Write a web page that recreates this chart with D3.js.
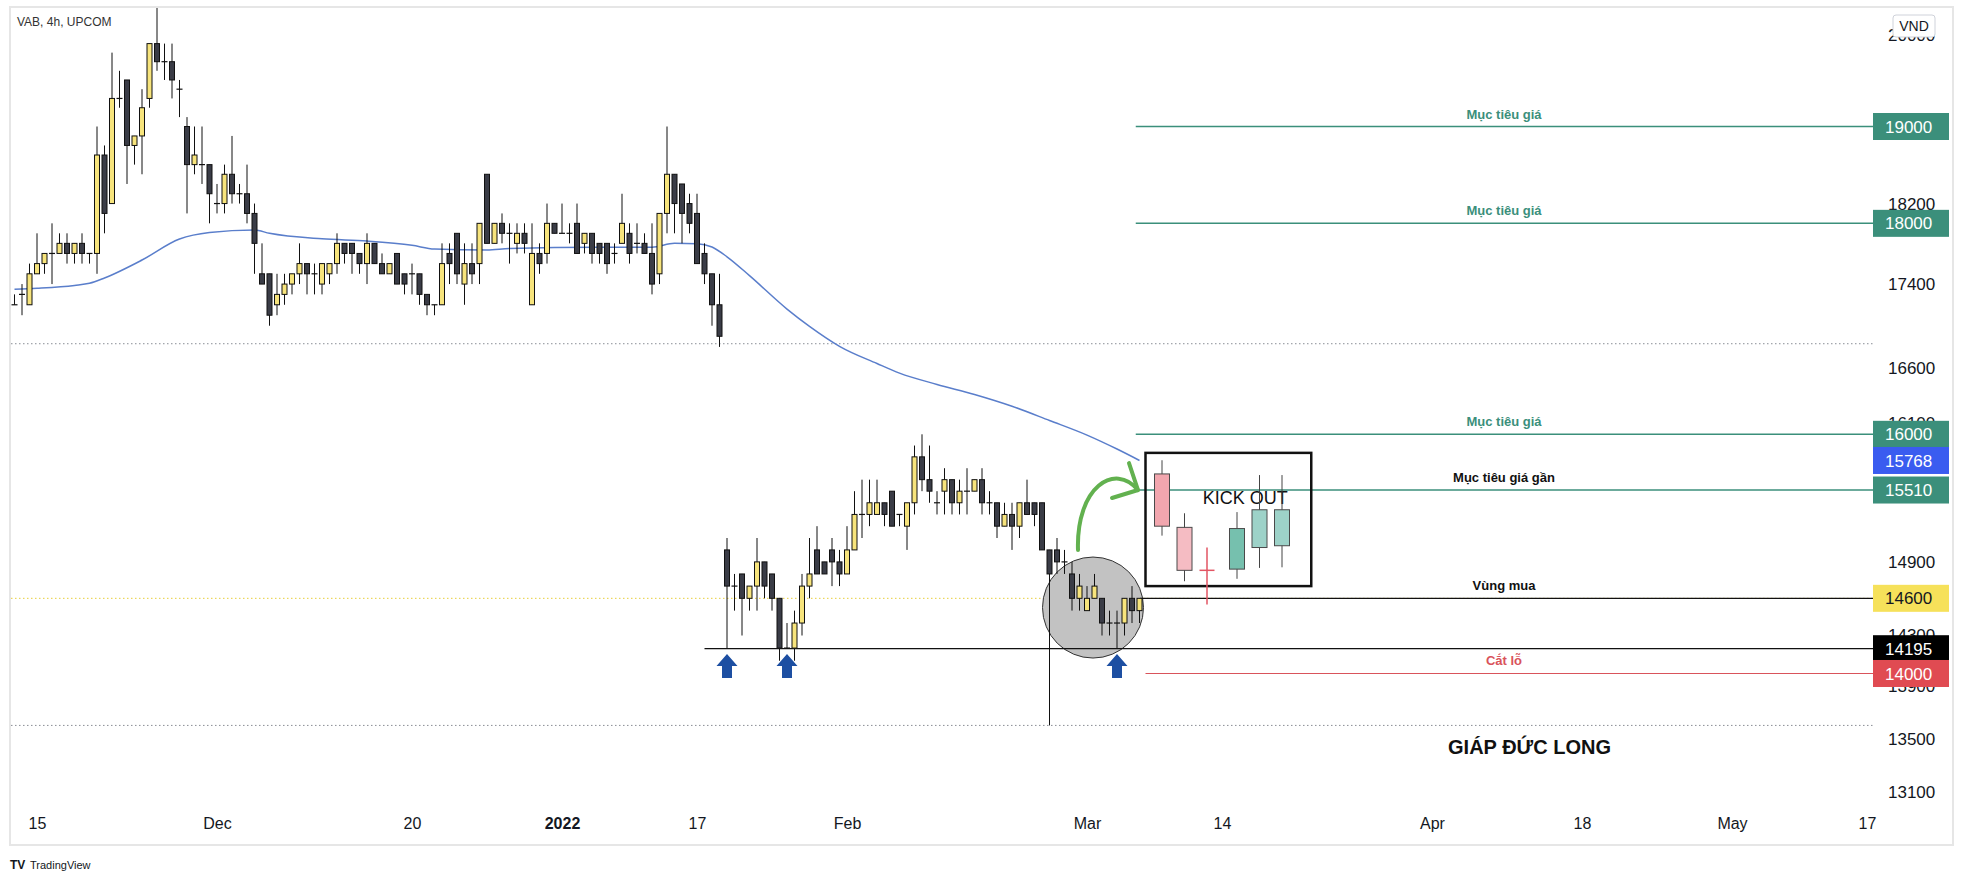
<!DOCTYPE html>
<html>
<head>
<meta charset="utf-8">
<script src="https://d3js.org/d3.v7.min.js"></script>
<style>
  body { margin: 0; background: #fff; }
  svg { display: block; font-family: "Liberation Sans", Arial, sans-serif; }
</style>
</head>
<body>
<svg id="chart" width="1963" height="883"></svg>
<script>
// VAB 4h candles, two bars per trading day. bar 0 = 15 Nov
const firstBar = -3;
// [open, high, low, close]
const candles = [
  [17200,17300,17200,17200],[17300,17400,17100,17300],[17200,17600,17200,17500],[17500,17900,17500,17600],
  [17600,17700,17500,17700],[17700,18000,17400,17700],[17700,17900,17700,17800],[17800,17900,17600,17700],
  [17700,17800,17600,17800],[17800,17900,17600,17700],[17700,17700,17600,17700],[17700,19000,17500,18700],
  [18700,18800,17900,18100],[18200,19800,18200,19300],[19300,19600,19200,19300],[19500,19500,18400,18800],
  [18800,18900,18600,18900],[18900,19400,18500,19200],[19300,19900,19200,19900],[19900,20300,19600,19700],
  [19700,19900,19500,19700],[19700,19900,19300,19500],[19400,19500,19100,19400],[19000,19100,18100,18600],
  [18600,19000,18500,18700],[18600,19000,18400,18600],[18600,18600,18000,18300],[18200,18400,18100,18200],
  [18200,18600,18100,18500],[18500,18900,18200,18300],[18300,18400,18200,18300],[18300,18600,18000,18100],
  [18100,18200,17500,17800],[17500,17800,17400,17400],[17500,17500,17000,17100],[17200,17500,17100,17300],
  [17300,17500,17200,17400],[17400,17500,17300,17500],[17500,17800,17400,17600],[17600,17600,17300,17500],
  [17500,17600,17300,17500],[17400,17600,17300,17600],[17500,17600,17400,17600],[17600,17900,17500,17800],
  [17800,17800,17600,17700],[17800,17800,17500,17700],[17700,17700,17500,17600],[17600,17900,17400,17800],
  [17800,17800,17600,17600],[17600,17700,17500,17500],[17500,17600,17500,17600],[17700,17700,17400,17400],
  [17500,17500,17300,17400],[17500,17600,17300,17500],[17500,17500,17200,17300],[17300,17300,17100,17200],
  [17200,17200,17100,17200],[17200,17800,17200,17600],[17700,17800,17400,17600],[17900,17900,17400,17500],
  [17400,17800,17200,17600],[17600,17800,17400,17500],[17600,18000,17400,18000],[18500,18500,17800,17800],
  [17800,18000,17800,18000],[18000,18100,17800,17900],[17900,18000,17600,17900],[17800,18000,17700,17900],
  [17900,18000,17700,17800],[17200,18000,17200,17700],[17700,17800,17500,17600],[17700,18200,17600,18000],
  [18000,18000,17900,17900],[17900,18200,17900,17900],[17900,18000,17800,17900],[18000,18200,17700,17700],
  [17800,17900,17700,17900],[17900,17900,17600,17700],[17800,17800,17600,17700],[17800,17800,17500,17600],
  [17700,17800,17600,17700],[17800,18300,17800,18000],[17900,18000,17600,17700],[17800,18000,17700,17800],
  [17800,17900,17700,17700],[17700,18000,17300,17400],[17500,18100,17400,18100],[18100,19000,17900,18500],
  [18500,18500,17900,18200],[18400,18400,17800,18100],[18200,18300,17900,18000],[18100,18300,17600,17600],
  [17700,17800,17400,17500],[17500,17500,17000,17200],[17200,17500,16800,16900],
  // after the gap down
  [15000,15100,14200,14700],[14700,14800,14500,14700],[14800,14800,14300,14600],[14600,14700,14500,14700],
  [14700,15100,14500,14900],[14900,14900,14600,14700],[14800,14800,14500,14600],[14600,14600,14100,14200],
  [14200,14400,14200,14200],[14200,14500,14100,14400],[14400,14800,14300,14700],[14700,15100,14600,14800],
  [15000,15200,14800,14800],[14900,14900,14800,14800],[15000,15100,14700,14900],[14900,15000,14700,14800],
  [14800,15200,14800,15000],[15000,15500,15000,15300],[15300,15600,15100,15300],[15300,15600,15200,15400],
  [15300,15600,15300,15400],[15400,15400,15200,15300],[15500,15500,15200,15200],[15300,15300,15200,15300],
  [15200,15400,15000,15400],[15400,15900,15300,15800],[15800,16000,15500,15600],[15600,15900,15400,15500],
  [15400,15500,15300,15400],[15500,15700,15300,15600],[15600,15600,15300,15400],[15400,15600,15300,15500],
  [15500,15700,15300,15500],[15500,15600,15500,15600],[15600,15700,15300,15400],[15400,15500,15300,15400],
  [15400,15400,15100,15200],[15200,15400,15200,15300],[15300,15400,15000,15200],[15200,15400,15100,15400],
  [15400,15600,15300,15300],[15400,15400,15200,15300],[15400,15400,15000,15000],[15000,15000,13600,14800],
  [15000,15100,14800,14900],[14900,15000,14800,14900],[14800,14900,14500,14600],[14600,14800,14500,14700],
  [14500,14700,14500,14600],[14600,14800,14600,14700],[14600,14600,14300,14400],[14400,14500,14300,14400],
  [14400,14500,14200,14400],[14400,14600,14300,14600],[14600,14700,14400,14500],[14500,14600,14400,14600]
];

// moving average
const maBars = [-3,0,5,7,9,14,19,23,29,31,38,44,50,53,60,63,75,82,85,88,90,92,95,100,103,107,112,115,120,125,130,135,140,144,147];
const maValues = [17350,17360,17387,17407,17459,17635,17843,17908,17933,17900,17845,17823,17781,17744,17734,17749,17761,17761,17800,17797,17764,17667,17482,17159,16994,16806,16645,16556,16452,16360,16253,16124,15993,15869,15768];

const timeBars = [0,24,50,70,88,108,140,158,186,206,226,244];
const timeLabels = ["15","Dec","20","2022","17","Feb","Mar","14","Apr","18","May","17"];
const priceTicks = [20000,18200,17400,16600,16100,14900,14300,13900,13500,13100];

const levelPrices = [19000,18000,16000,15510,14600,14195,14000];
const levelNotes = ["Mục tiêu giá","Mục tiêu giá","Mục tiêu giá","Mục tiêu giá gần","Vùng mua","","Cắt lỗ"];
const levelFromBar = [146.5,146.5,146.5,146.7,147.1,89.0,147.8];
const maLast = 15768;
const lastPrice = 14600;
const dottedPrices = [16830,13600];

// hand-drawn scenario candles inside the box
const planBars = [150,153,156,160,163,166];
const planCandles = [[15650,15770,15120,15200],[15190,15310,14740,14830],[14830,15020,14550,14830],
                     [14840,15320,14760,15180],[15020,15640,14850,15340],[15035,15640,14855,15340]];
const arrowBars = [92,100,144];

const plotL = 11, plotR = 1873, plotT = 8, plotB = 806;

const svg = d3.select("#chart");
const x = d3.scaleLinear().domain([0,244]).range([37,1867]);
const y = d3.scaleLog().domain([13100,19000]).range([792.5,126.5]);

// frame
svg.append("rect").attr("x",10).attr("y",7).attr("width",1943).attr("height",838)
  .attr("fill","none").attr("stroke","#e6e6e6").attr("stroke-width",2);

svg.append("defs").append("clipPath").attr("id","plotclip")
  .append("rect").attr("x",plotL).attr("y",plotT).attr("width",plotR-plotL).attr("height",plotB-plotT);

const plot = svg.append("g").attr("clip-path","url(#plotclip)");

// dotted range lines + last price line
plot.selectAll(".dot").data(dottedPrices).join("line")
  .attr("x1",plotL).attr("x2",plotR).attr("y1",d=>y(d)).attr("y2",d=>y(d))
  .attr("stroke","#8a8d95").attr("stroke-width",1).attr("stroke-dasharray","1.5,2.5");
plot.append("line").attr("x1",plotL).attr("x2",plotR).attr("y1",y(lastPrice)).attr("y2",y(lastPrice))
  .attr("stroke","#e8cf3a").attr("stroke-width",1).attr("stroke-dasharray","1.5,2.5");

// grey circle
plot.append("circle").attr("cx",x(140.8)).attr("cy",y(14525)).attr("r",50.5)
  .attr("fill","#c2c2c2").attr("stroke","#333").attr("stroke-width",1);

// level lines
const levelColor = ["#3b8f7b","#3b8f7b","#3b8f7b","#3b8f7b","#111","#111","#d9535b"];
const noteColor = ["#3b8f7b","#3b8f7b","#3b8f7b","#111","#111","#111","#d9535b"];
const levelWidth = [1.5,1.5,1.5,1.5,1.3,1.3,1.2];
plot.selectAll(".lvl").data(levelPrices).join("line")
  .attr("x1",(d,i)=>x(levelFromBar[i])).attr("x2",plotR)
  .attr("y1",d=>y(d)).attr("y2",d=>y(d))
  .attr("stroke",(d,i)=>levelColor[i]).attr("stroke-width",(d,i)=>levelWidth[i]);

plot.selectAll(".lvlnote").data(levelPrices).join("text")
  .attr("x",x(195.6)).attr("y",d=>y(d)-8).attr("text-anchor","middle")
  .attr("font-size",13).attr("font-weight","bold")
  .attr("fill",(d,i)=>noteColor[i])
  .text((d,i)=>levelNotes[i]);

// moving average
plot.append("path").datum(maBars.map((b,i)=>[b,maValues[i]]))
  .attr("fill","none").attr("stroke","#5a7ecb").attr("stroke-width",1.5)
  .attr("d",d3.line().x(d=>x(d[0])).y(d=>y(d[1])).curve(d3.curveMonotoneX));

// candles
const bw = 5;
const cg = plot.append("g");
candles.forEach((d,i)=>{
  const cx = x(firstBar+i), o=d[0], h=d[1], l=d[2], c=d[3];
  cg.append("line").attr("x1",cx).attr("x2",cx).attr("y1",y(h)).attr("y2",y(l))
    .attr("stroke","#111").attr("stroke-width",1);
  if (o===c) {
    cg.append("line").attr("x1",cx-bw/2-0.5).attr("x2",cx+bw/2+0.5).attr("y1",y(o)).attr("y2",y(o))
      .attr("stroke","#111").attr("stroke-width",1.2);
  } else {
    cg.append("rect").attr("x",cx-bw/2).attr("width",bw)
      .attr("y",y(Math.max(o,c))).attr("height",Math.abs(y(o)-y(c)))
      .attr("fill",c>o ? "#f7e47c" : "#3a3c46").attr("stroke","#111").attr("stroke-width",1);
  }
});

// blue arrows under the lows
arrowBars.forEach(b=>{
  const d = candles[b-firstBar];
  const ax = x(b), ay = y(d[2])+6;
  const p = d3.path();
  p.moveTo(ax,ay); p.lineTo(ax+10.5,ay+12); p.lineTo(ax+5,ay+12); p.lineTo(ax+5,ay+24);
  p.lineTo(ax-5,ay+24); p.lineTo(ax-5,ay+12); p.lineTo(ax-10.5,ay+12); p.closePath();
  plot.append("path").attr("d",p.toString()).attr("fill","#1d4fa2");
});

// green curved arrow
const s0 = [x(138.8), y(15000)], tip = [x(146.8), y(15510)];
plot.append("path")
  .attr("d",`M${s0[0]},${s0[1]} C${s0[0]-2},${s0[1]-63} ${tip[0]-23},${tip[1]-28} ${tip[0]},${tip[1]}`)
  .attr("fill","none").attr("stroke","#62b14f").attr("stroke-width",4).attr("stroke-linecap","round");
plot.append("path")
  .attr("d",`M${tip[0]-9},${tip[1]-27} L${tip[0]},${tip[1]} L${tip[0]-26},${tip[1]+8}`)
  .attr("fill","none").attr("stroke","#62b14f").attr("stroke-width",4).attr("stroke-linejoin","round").attr("stroke-linecap","round");

// KICK OUT box
plot.append("rect").attr("x",x(147.8)).attr("y",y(15835))
  .attr("width",x(169.9)-x(147.8)).attr("height",y(14700)-y(15835))
  .attr("fill","none").attr("stroke","#111").attr("stroke-width",2.5);
plot.append("text").attr("x",x(161.1)).attr("y",y(15510)+14).attr("text-anchor","middle")
  .attr("font-size",18).attr("fill","#111").text("KICK OUT");

const planFill = ["#f2a6ae","#f5bcc3",null,"#76c0ae","#9dd2c8","#9dd2c8"];
planCandles.forEach((d,i)=>{
  const cx = x(planBars[i]), o=d[0], h=d[1], l=d[2], c=d[3];
  if (planFill[i]===null) {
    plot.append("line").attr("x1",cx).attr("x2",cx).attr("y1",y(h)).attr("y2",y(l))
      .attr("stroke","#e25563").attr("stroke-width",1.5);
    plot.append("line").attr("x1",cx-7.5).attr("x2",cx+7.5).attr("y1",y(o)).attr("y2",y(o))
      .attr("stroke","#e25563").attr("stroke-width",1.5);
    return;
  }
  plot.append("line").attr("x1",cx).attr("x2",cx).attr("y1",y(h)).attr("y2",y(l))
    .attr("stroke","#444").attr("stroke-width",1);
  plot.append("rect").attr("x",cx-7.5).attr("width",15)
    .attr("y",y(Math.max(o,c))).attr("height",Math.abs(y(o)-y(c)))
    .attr("fill",planFill[i]).attr("stroke","#4a4a4a").attr("stroke-width",1);
});

// signature
plot.append("text").attr("x",x(199)).attr("y",y(13385)).attr("text-anchor","middle")
  .attr("font-size",20).attr("font-weight","bold").attr("fill","#111").text("GIÁP ĐỨC LONG");

// symbol title
svg.append("text").attr("x",17).attr("y",26).attr("font-size",12).attr("fill","#333")
  .text("VAB, 4h, UPCOM");

// time axis
const xAxis = svg.append("g").attr("transform",`translate(0,${plotB})`)
  .call(d3.axisBottom(x).tickValues(timeBars).tickFormat((d,i)=>timeLabels[i]).tickSize(0).tickPadding(12));
xAxis.select(".domain").remove();
xAxis.selectAll("text").attr("font-size",16).attr("fill","#131722").attr("font-family","Liberation Sans, Arial, sans-serif")
  .attr("font-weight",d=>d===70 ? "bold" : "normal");

// price axis
const yAxis = svg.append("g").attr("transform",`translate(${plotR},0)`)
  .call(d3.axisRight(y).tickValues(priceTicks).tickFormat(d3.format("d")).tickSize(0).tickPadding(15));
yAxis.select(".domain").remove();
yAxis.selectAll("text").attr("font-size",17).attr("fill","#131722").attr("font-family","Liberation Sans, Arial, sans-serif");

// price tags
const tagPrices = [19000,18000,16000,maLast,15510,14600,14195,14000];
const tagFill = ["#3b8f7b","#3b8f7b","#3b8f7b","#3a5cf0","#3b8f7b","#f6e15a","#000","#e04b52"];
const tagText = ["#fff","#fff","#fff","#fff","#fff","#131722","#fff","#fff"];
const tags = svg.selectAll(".tag").data(tagPrices).join("g").attr("transform",d=>`translate(${plotR},${y(d)})`);
tags.append("rect").attr("x",0).attr("y",-13.5).attr("width",76).attr("height",27)
  .attr("fill",(d,i)=>tagFill[i]);
tags.append("text").attr("x",12).attr("dy","0.36em").attr("font-size",17)
  .attr("fill",(d,i)=>tagText[i]).text(d=>d);

// currency box
svg.append("rect").attr("x",1893).attr("y",15).attr("width",42).attr("height",22).attr("rx",3)
  .attr("fill","#fff").attr("stroke","#cfd2da");
svg.append("text").attr("x",1914).attr("y",31).attr("text-anchor","middle").attr("font-size",14)
  .attr("fill","#131722").text("VND");

// footer
svg.append("text").attr("x",10).attr("y",869).attr("font-size",12).attr("font-weight","bold")
  .attr("fill","#131722").text("TV");
svg.append("text").attr("x",30).attr("y",869).attr("font-size",11)
  .attr("fill","#131722").text("TradingView");
</script>
</body>
</html>
